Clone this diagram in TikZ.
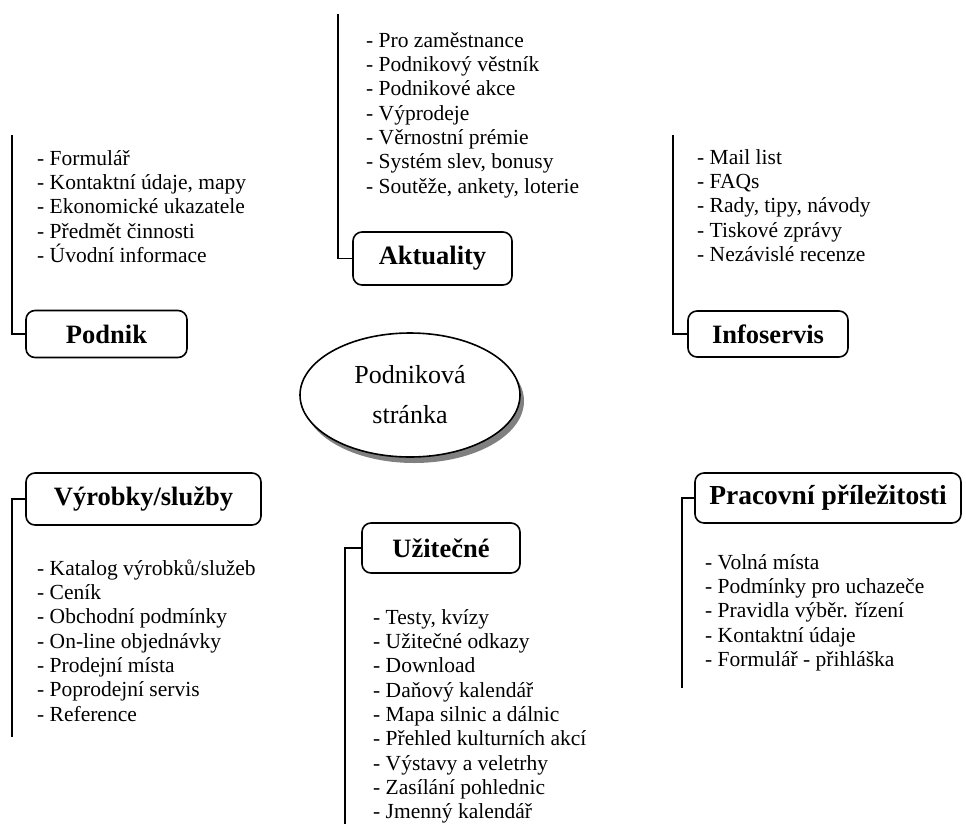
\documentclass[tikz,border=0pt]{standalone}
\usepackage{fontspec}
\setmainfont{Liberation Serif}
\usetikzlibrary{shapes.geometric,shadows}
\begin{document}
\begin{tikzpicture}[x=1pt,y=-1pt,
  conn/.style={line width=1.6pt},
  catbox/.style={draw, line width=1.6pt, rounded corners=9pt, fill=white,
    font=\fontsize{26.5}{30}\selectfont\bfseries, inner sep=0pt},
  itemlist/.style={align=left, anchor=north west, inner sep=0pt,
    font=\fontsize{21.5}{24.3}\selectfont}]
\useasboundingbox (0,0) rectangle (966,825);

% centre
\node[ellipse, draw, line width=1.6pt, fill=white, minimum width=220pt, minimum height=124pt,
  inner sep=0pt, align=center, font=\fontsize{26}{40}\selectfont,
  drop shadow={shadow xshift=4pt, shadow yshift=-6pt, fill=black!50, opacity=1}]
  (centre) at (410,395) {Podniková\\stránka};

% Podnik
\node[catbox, minimum width=161pt, minimum height=47pt] (podnik) at (106.5,334) {Podnik};
\coordinate (podnikTop) at (12,135);
\draw[conn] (podnikTop) |- (podnik.west);
\node[itemlist] (podnikList) at (37,148) {\strut- Formulář\\- Kontaktní údaje, mapy\\- Ekonomické ukazatele\\- Předmět činnosti\\- Úvodní informace};

% Aktuality
\node[catbox, minimum width=159pt, minimum height=53pt] (akt) at (432.5,258.5) {Aktuality};
\coordinate (aktTop) at (338,14);
\draw[conn] (aktTop) |- (akt.west);
\node[itemlist] (aktList) at (366,30) {\strut- Pro zaměstnance\\- Podnikový věstník\\- Podnikové akce\\- Výprodeje\\- Věrnostní prémie\\- Systém slev, bonusy\\- Soutěže, ankety, loterie};

% Infoservis
\node[catbox, minimum width=160pt, minimum height=46pt] (info) at (768,334) {Infoservis};
\coordinate (infoTop) at (673,135);
\draw[conn] (infoTop) |- (info.west);
\node[itemlist] (infoList) at (697,147) {\strut- Mail list\\- FAQs\\- Rady, tipy, návody\\- Tiskové zprávy\\- Nezávislé recenze};

% Vyrobky/sluzby
\node[catbox, minimum width=235pt, minimum height=52pt] (vyr) at (143.5,499) {Výrobky/služby};
\coordinate (vyrEnd) at (12,737);
\draw[conn] (vyr.west) -| (vyrEnd);
\node[itemlist] (vyrList) at (37,558) {\strut- Katalog výrobků/služeb\\- Ceník\\- Obchodní podmínky\\- On-line objednávky\\- Prodejní místa\\- Poprodejní servis\\- Reference};

% Uzitecne
\node[catbox, minimum width=158pt, minimum height=50pt] (uzi) at (441,548) {Užitečné};
\coordinate (uziEnd) at (345,824);
\draw[conn] (uzi.west) -| (uziEnd);
\node[itemlist] (uziList) at (373,607) {\strut- Testy, kvízy\\- Užitečné odkazy\\- Download\\- Daňový kalendář\\- Mapa silnic a dálnic\\- Přehled kulturních akcí\\- Výstavy a veletrhy\\- Zasílání pohlednic\\- Jmenný kalendář};

% Pracovni prilezitosti
\node[catbox, minimum width=266pt, minimum height=50pt, font=\fontsize{27.5}{30}\selectfont\bfseries] (prac) at (828,498) {Pracovní příležitosti};
\coordinate (pracEnd) at (682,688);
\draw[conn] (prac.west) -| (pracEnd);
\node[itemlist] (pracList) at (705,552) {\strut- Volná místa\\- Podmínky pro uchazeče\\- Pravidla výběr. řízení\\- Kontaktní údaje\\- Formulář - přihláška};
\end{tikzpicture}
\end{document}
